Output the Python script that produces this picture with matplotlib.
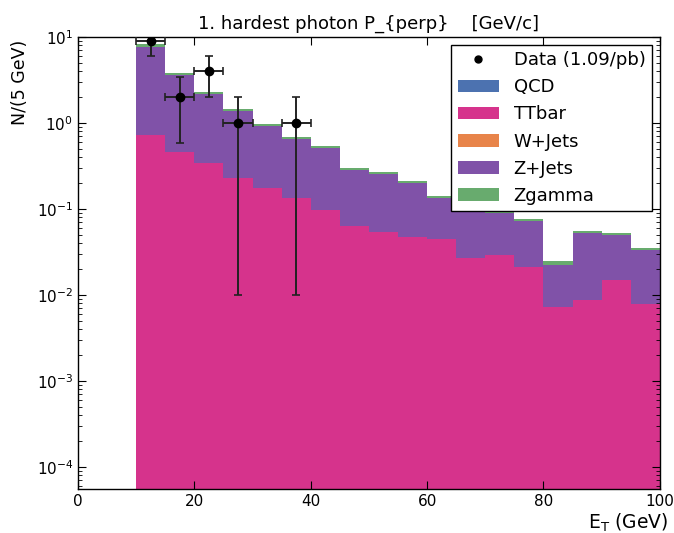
import numpy as np
import matplotlib
matplotlib.use('Agg')
import matplotlib.pyplot as plt
from matplotlib.patches import Patch
from matplotlib.lines import Line2D

# bin edges (GeV), 5 GeV bins
edges = np.arange(10, 101, 5)

# stacked MC contributions per bin
qcd = [0.0] * 18
ttbar = [0.72, 0.46, 0.34, 0.227, 0.174, 0.133, 0.098, 0.063, 0.054,
         0.047, 0.044, 0.027, 0.029, 0.021, 0.0072, 0.0087, 0.015, 0.0078]
wjets = [0.0] * 18
zjets = [6.98, 3.19, 1.84, 1.143, 0.746, 0.512, 0.417, 0.222, 0.198,
         0.155, 0.091, 0.082, 0.061, 0.052, 0.0148, 0.0433, 0.0342, 0.0254]
zgamma = [0.5, 0.2, 0.12, 0.08, 0.05, 0.035, 0.025, 0.015, 0.013,
          0.011, 0.007, 0.006, 0.005, 0.004, 0.003, 0.003, 0.0028, 0.0018]

# data points
data_x = [12.5, 17.5, 22.5, 27.5, 37.5]
data_y = [9, 2, 4, 1, 1]
data_err_lo = [3, 1.41, 2, 0.99, 0.99]
data_err_hi = [3, 1.41, 2, 1, 1]

names = ['QCD', 'TTbar', 'W+Jets', 'Z+Jets', 'Zgamma']
colors = ['#4c72b0', '#d6338c', '#e8844a', '#8052a8', '#68ab6e']
stack = [qcd, ttbar, wjets, zjets, zgamma]

plt.rcParams['font.family'] = ['DejaVu Sans']
fig = plt.figure(figsize=(6.74, 5.33), dpi=100)
ax = fig.add_axes([0.1157, 0.0826, 0.8633, 0.848])

bottom = np.zeros(len(edges) - 1)
for vals, c in zip(stack, colors):
    vals = np.array(vals)
    ax.bar(edges[:-1], vals, width=5, bottom=bottom, align='edge',
           color=c, linewidth=0)
    bottom = bottom + vals

ax.errorbar(data_x, data_y, xerr=2.5, yerr=[data_err_lo, data_err_hi],
            fmt='o', color='black', ecolor='#222222', markersize=6,
            capsize=3, elinewidth=1.4, capthick=1.2, zorder=5)

ax.set_yscale('log')
ax.set_xlim(0, 100)
ax.set_ylim(5.5e-5, 10)
ax.tick_params(which='both', direction='in', top=True, right=True, labelsize=11)
ax.tick_params(which='major', length=6)
ax.tick_params(which='minor', length=3)
for s in ax.spines.values():
    s.set_linewidth(1.0)

ax.set_title('1. hardest photon P_{perp}    [GeV/c]', fontsize=13, pad=6)
ax.set_ylabel('N/(5 GeV)', fontsize=12.5)
ax.yaxis.set_label_coords(-0.085, 0.9)
ax.set_xlabel('E$_{\\mathrm{T}}$ (GeV)', fontsize=13.5)
ax.xaxis.set_label_coords(1.015, -0.05)
ax.xaxis.label.set_horizontalalignment('right')

handles = [Line2D([], [], marker='o', color='black', linestyle='none', markersize=5)]
handles += [Patch(facecolor=c, edgecolor='none') for c in colors]
labels = ['Data (1.09/pb)'] + names
leg = ax.legend(handles, labels, loc='upper right', fontsize=13, fancybox=False,
                edgecolor='black', framealpha=1, borderaxespad=0.45,
                handlelength=2.3, labelspacing=0.5, borderpad=0.35,
                handletextpad=0.8)
leg.get_frame().set_linewidth(1.0)

fig.savefig('out.png', dpi=100)
